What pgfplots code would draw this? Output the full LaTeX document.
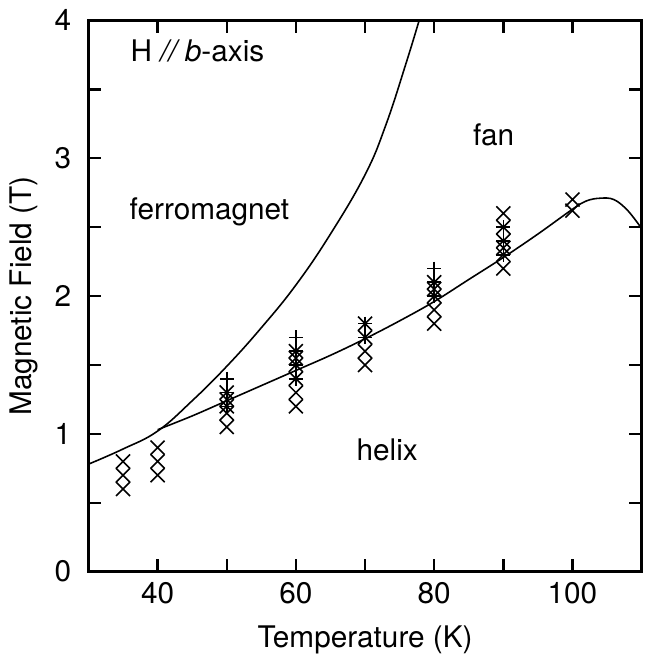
\documentclass[border=0pt]{standalone}
\usepackage{fontspec}
\setmainfont{TeX Gyre Heros}
\usepackage{pgfplots}
\pgfplotsset{compat=1.18}
\begin{document}
\fontsize{15}{18}\selectfont
\begin{tikzpicture}
\begin{axis}[
  scale only axis,
  width=279pt, height=278pt,
  xmin=30, xmax=110, ymin=0, ymax=4,
  xtick={30,40,...,110},
  xticklabels={,40,,60,,80,,100,},
  ytick={0,0.5,...,4},
  yticklabels={0,,1,,2,,3,,4},
  tick align=inside,
  major tick length=6.5pt,
  axis line style={line width=1.2pt},
  every tick/.style={line width=1.2pt, black},
  /pgf/number format/assume math mode=true,
  yticklabel style={xshift=-3.5pt},
  xlabel={Temperature (K)},
  ylabel={Magnetic Field (T)},
  xlabel style={at={(axis description cs:0.5,-0.124)}, anchor=center},
  ylabel style={at={(axis description cs:-0.1165,0.5)}, anchor=center},
  clip=true,
]
% phase boundary helix/fan
\addplot[black, line width=0.8pt, smooth, tension=0.6] coordinates {
 (40,1.03) (45,1.13) (50,1.24) (55,1.35) (60,1.46) (65,1.57) (70,1.69)
 (75,1.82) (80,1.96) (85,2.12) (90,2.28) (95,2.45) (100,2.63) (102,2.69)
 (104,2.71) (106,2.70) (108,2.62) (110,2.49)};
% phase boundary ferromagnet
\addplot[black, line width=0.8pt, smooth, tension=0.7] coordinates {
 (30,0.78) (35,0.89) (40,1.02) (45,1.24) (50,1.49) (55,1.77) (60,2.08)
 (65,2.45) (70,2.88) (73,3.24) (76,3.70) (78,4.03)};
% cross data
\addplot[only marks, mark=x, mark size=5pt, black, line width=0.8pt] coordinates {
 (35,0.6) (35,0.7) (35,0.8)
 (40,0.7) (40,0.8) (40,0.9)
 (50,1.05) (50,1.15) (50,1.2) (50,1.25) (50,1.3)
 (60,1.2) (60,1.3) (60,1.4) (60,1.5) (60,1.55) (60,1.6)
 (70,1.5) (70,1.6) (70,1.7) (70,1.8)
 (80,1.8) (80,1.9) (80,2.0) (80,2.05) (80,2.1)
 (90,2.2) (90,2.3) (90,2.35) (90,2.4) (90,2.5) (90,2.6)
 (100,2.62) (100,2.7)};
% plus data
\addplot[only marks, mark=+, mark size=3.5pt, black, line width=0.8pt] coordinates {
 (50,1.2) (50,1.3) (50,1.4)
 (60,1.4) (60,1.5) (60,1.6) (60,1.7)
 (70,1.7) (70,1.8)
 (80,2.0) (80,2.1) (80,2.2)
 (90,2.3) (90,2.4) (90,2.5)};
\node[anchor=west] at (axis cs:34.6,3.78) {H \textit{//}\,\textit{b}-axis};
\node at (axis cs:88.6,3.17) {fan};
\node at (axis cs:47.5,2.61) {ferromagnet};
\node at (axis cs:73.2,0.885) {helix};
\end{axis}
\end{tikzpicture}
\end{document}
